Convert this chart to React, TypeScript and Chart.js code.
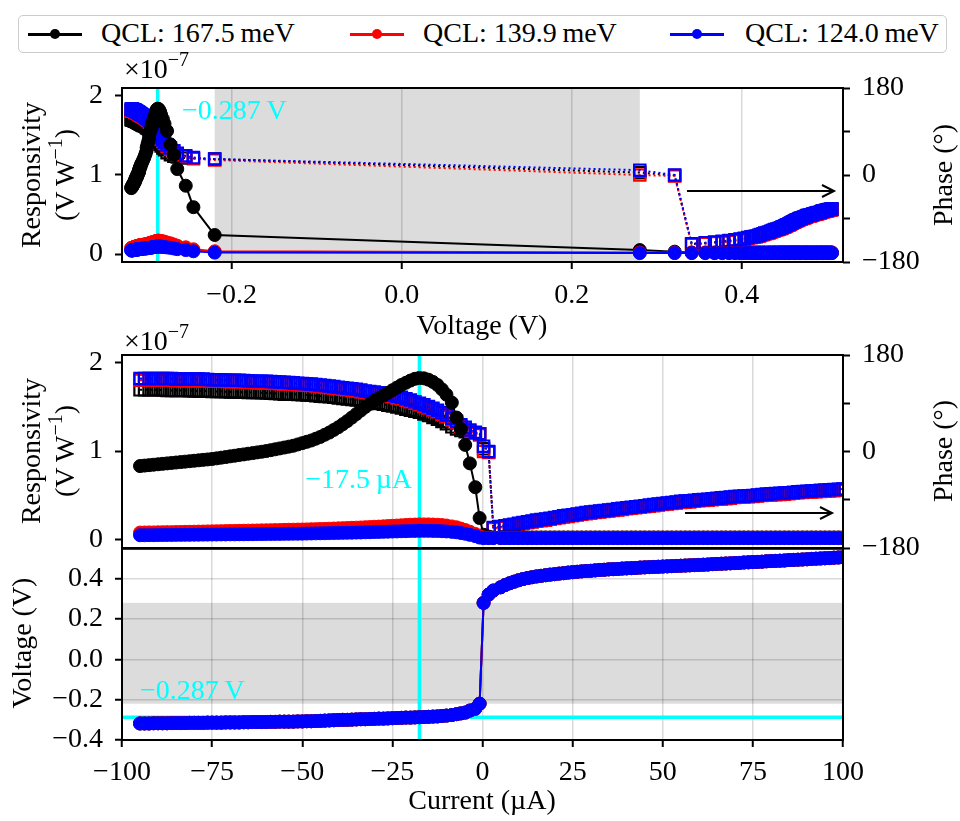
import { useEffect, useRef } from 'react';
import { Chart, registerables } from 'chart.js';

Chart.register(...registerables);

const FONT_FAMILY = "'Liberation Serif', 'Times New Roman', serif";
const FONT_SIZE = 28;
const MINUS = '\u2212';
const THIN = '\u2009';

// ---------------- data ----------------
const qclLabels = ['QCL: 167.5' + THIN + 'meV', 'QCL: 139.9' + THIN + 'meV', 'QCL: 124.0' + THIN + 'meV'];
const qclColors = ['#000000', '#ff0000', '#0000ff'];

// bias current (µA)
const current = [
  -95, -93.75, -92.5, -91.25, -90, -88.75, -87.5, -86.25, -85, -83.75,
  -82.5, -81.25, -80, -78.75, -77.5, -76.25, -75, -73.75, -72.5, -71.25,
  -70, -68.75, -67.5, -66.25, -65, -63.75, -62.5, -61.25, -60, -58.75,
  -57.5, -56.25, -55, -53.75, -52.5, -51.25, -50, -48.75, -47.5, -46.25,
  -45, -43.75, -42.5, -41.25, -40, -38.75, -37.5, -36.25, -35, -33.75,
  -32.5, -31.25, -30, -28.75, -27.5, -26.25, -25, -23.75, -22.5, -21.25,
  -20, -18.75, -17.5, -16.25, -15, -13.75, -12.5, -11.25, -10, -8.5,
  -7.2, -6, -4.8, -3.5, -2, -0.8, 0.3, 1.7, 3, 5,
  6.25, 7.5, 8.75, 10, 11.25, 12.5, 13.75, 15, 16.25, 17.5,
  18.75, 20, 21.25, 22.5, 23.75, 25, 26.25, 27.5, 28.75, 30,
  31.25, 32.5, 33.75, 35, 36.25, 37.5, 38.75, 40, 41.25, 42.5,
  43.75, 45, 46.25, 47.5, 48.75, 50, 51.25, 52.5, 53.75, 55,
  56.25, 57.5, 58.75, 60, 61.25, 62.5, 63.75, 65, 66.25, 67.5,
  68.75, 70, 71.25, 72.5, 73.75, 75, 76.25, 77.5, 78.75, 80,
  81.25, 82.5, 83.75, 85, 86.25, 87.5, 88.75, 90, 91.25, 92.5,
  93.75, 95, 96.25, 97.5, 98.75, 100,
];

// measured voltage (V)
const voltage = [
  -0.318, -0.318, -0.318, -0.317, -0.317, -0.317, -0.317, -0.316, -0.316, -0.316,
  -0.316, -0.315, -0.315, -0.315, -0.315, -0.314, -0.314, -0.314, -0.314, -0.313,
  -0.313, -0.313, -0.313, -0.312, -0.312, -0.311, -0.311, -0.311, -0.311, -0.310,
  -0.310, -0.309, -0.309, -0.309, -0.309, -0.308, -0.308, -0.307, -0.307, -0.306,
  -0.305, -0.304, -0.303, -0.302, -0.301, -0.300, -0.300, -0.299, -0.298, -0.297,
  -0.297, -0.296, -0.295, -0.294, -0.294, -0.293, -0.292, -0.291, -0.290, -0.289,
  -0.289, -0.288, -0.287, -0.286, -0.285, -0.284, -0.283, -0.281, -0.279, -0.276,
  -0.272, -0.268, -0.264, -0.254, -0.245, -0.220, 0.280, 0.321, 0.341, 0.357,
  0.368, 0.377, 0.385, 0.392, 0.398, 0.403, 0.407, 0.411, 0.414, 0.417,
  0.420, 0.422, 0.425, 0.427, 0.430, 0.432, 0.434, 0.436, 0.438, 0.439,
  0.441, 0.443, 0.444, 0.446, 0.447, 0.448, 0.450, 0.451, 0.452, 0.453,
  0.455, 0.456, 0.457, 0.458, 0.459, 0.460, 0.461, 0.462, 0.463, 0.464,
  0.465, 0.466, 0.467, 0.468, 0.469, 0.470, 0.472, 0.473, 0.474, 0.475,
  0.476, 0.477, 0.478, 0.480, 0.481, 0.482, 0.483, 0.484, 0.486, 0.487,
  0.488, 0.489, 0.490, 0.492, 0.493, 0.494, 0.495, 0.496, 0.498, 0.499,
  0.500, 0.501, 0.502, 0.504, 0.505, 0.506,
];

// responsivity (x 1e-7 V/W)
const resp167 = [
  0.830, 0.835, 0.840, 0.845, 0.850, 0.855, 0.860, 0.865, 0.870, 0.875,
  0.880, 0.885, 0.890, 0.895, 0.900, 0.905, 0.910, 0.917, 0.925, 0.932,
  0.940, 0.947, 0.955, 0.962, 0.970, 0.977, 0.985, 0.992, 1.000, 1.010,
  1.020, 1.030, 1.040, 1.050, 1.060, 1.075, 1.090, 1.105, 1.120, 1.140,
  1.160, 1.185, 1.210, 1.240, 1.270, 1.305, 1.340, 1.380, 1.420, 1.460,
  1.500, 1.535, 1.570, 1.600, 1.630, 1.660, 1.690, 1.720, 1.750, 1.775,
  1.800, 1.820, 1.830, 1.825, 1.810, 1.785, 1.750, 1.700, 1.640, 1.550,
  1.380, 1.250, 1.070, 0.860, 0.590, 0.240, 0.050, 0.030, 0.020, 0.020,
  0.020, 0.020, 0.020, 0.020, 0.020, 0.020, 0.020, 0.020, 0.020, 0.020,
  0.020, 0.020, 0.020, 0.020, 0.020, 0.020, 0.020, 0.020, 0.020, 0.020,
  0.020, 0.020, 0.020, 0.020, 0.020, 0.020, 0.020, 0.020, 0.020, 0.020,
  0.020, 0.020, 0.020, 0.020, 0.020, 0.020, 0.020, 0.020, 0.020, 0.020,
  0.020, 0.020, 0.020, 0.020, 0.020, 0.020, 0.020, 0.020, 0.020, 0.020,
  0.020, 0.020, 0.020, 0.020, 0.020, 0.020, 0.020, 0.020, 0.020, 0.020,
  0.020, 0.020, 0.020, 0.020, 0.020, 0.020, 0.020, 0.020, 0.020, 0.020,
  0.020, 0.020, 0.020, 0.020, 0.020, 0.020,
];
const resp139 = [
  0.075, 0.076, 0.077, 0.077, 0.078, 0.079, 0.080, 0.080, 0.081, 0.082,
  0.083, 0.084, 0.085, 0.086, 0.087, 0.088, 0.089, 0.090, 0.091, 0.092,
  0.093, 0.094, 0.095, 0.096, 0.097, 0.098, 0.099, 0.100, 0.101, 0.102,
  0.103, 0.104, 0.106, 0.107, 0.108, 0.109, 0.110, 0.111, 0.113, 0.114,
  0.116, 0.117, 0.119, 0.121, 0.123, 0.125, 0.127, 0.129, 0.131, 0.133,
  0.136, 0.138, 0.141, 0.143, 0.146, 0.149, 0.152, 0.155, 0.158, 0.161,
  0.164, 0.166, 0.168, 0.168, 0.168, 0.166, 0.164, 0.160, 0.155, 0.145,
  0.135, 0.120, 0.105, 0.085, 0.060, 0.035, 0.020, 0.018, 0.017, 0.017,
  0.017, 0.017, 0.017, 0.017, 0.017, 0.017, 0.017, 0.017, 0.017, 0.017,
  0.017, 0.017, 0.017, 0.017, 0.017, 0.017, 0.017, 0.017, 0.017, 0.017,
  0.017, 0.017, 0.017, 0.017, 0.017, 0.017, 0.017, 0.017, 0.017, 0.017,
  0.017, 0.017, 0.017, 0.017, 0.017, 0.017, 0.017, 0.017, 0.017, 0.017,
  0.017, 0.017, 0.017, 0.017, 0.017, 0.017, 0.017, 0.017, 0.017, 0.017,
  0.017, 0.017, 0.017, 0.017, 0.017, 0.017, 0.017, 0.017, 0.017, 0.017,
  0.017, 0.017, 0.017, 0.017, 0.017, 0.017, 0.017, 0.017, 0.017, 0.017,
  0.017, 0.017, 0.017, 0.017, 0.017, 0.017,
];
const resp124 = [
  0.045, 0.045, 0.046, 0.046, 0.047, 0.047, 0.048, 0.048, 0.049, 0.049,
  0.050, 0.050, 0.051, 0.051, 0.052, 0.052, 0.053, 0.053, 0.054, 0.054,
  0.055, 0.055, 0.056, 0.056, 0.057, 0.057, 0.058, 0.058, 0.059, 0.059,
  0.060, 0.060, 0.061, 0.061, 0.062, 0.062, 0.063, 0.064, 0.065, 0.066,
  0.067, 0.068, 0.069, 0.070, 0.071, 0.072, 0.073, 0.074, 0.075, 0.076,
  0.078, 0.079, 0.081, 0.082, 0.084, 0.085, 0.087, 0.088, 0.090, 0.091,
  0.093, 0.094, 0.095, 0.095, 0.095, 0.094, 0.093, 0.091, 0.088, 0.083,
  0.078, 0.070, 0.062, 0.050, 0.035, 0.018, 0.012, 0.012, 0.012, 0.012,
  0.012, 0.012, 0.012, 0.012, 0.012, 0.012, 0.012, 0.012, 0.012, 0.012,
  0.012, 0.012, 0.012, 0.012, 0.012, 0.012, 0.012, 0.012, 0.012, 0.012,
  0.012, 0.012, 0.012, 0.012, 0.012, 0.012, 0.012, 0.012, 0.012, 0.012,
  0.012, 0.012, 0.012, 0.012, 0.012, 0.012, 0.012, 0.012, 0.012, 0.012,
  0.012, 0.012, 0.012, 0.012, 0.012, 0.012, 0.012, 0.012, 0.012, 0.012,
  0.012, 0.012, 0.012, 0.012, 0.012, 0.012, 0.012, 0.012, 0.012, 0.012,
  0.012, 0.012, 0.012, 0.012, 0.012, 0.012, 0.012, 0.012, 0.012, 0.012,
  0.012, 0.012, 0.012, 0.012, 0.012, 0.012,
];

// phase (degrees)
const phase167 = [
  115, 115, 115, 115, 115, 114.5, 114, 114, 114, 114,
  114, 113.5, 113, 113, 113, 112.5, 112, 112, 112, 111.5,
  111, 111, 111, 110.5, 110, 110, 110, 109.5, 109, 108.5,
  108, 107.5, 107, 107, 107, 106.5, 106, 105.5, 105, 104,
  103, 102.5, 102, 101, 100, 99, 98, 97, 96, 95,
  94, 92.5, 91, 89.5, 88, 86.5, 85, 83, 81, 79,
  77, 75, 73, 70, 67, 63.5, 60, 56, 52, 46,
  42, 39, 37, 35, 34, 33, 5, -1, -143, -141,
  -139.5, -138, -136.5, -135, -133.5, -132, -130.5, -129, -128, -127,
  -125.5, -124, -122.5, -121, -120, -119, -117.5, -116, -115, -114,
  -113, -112, -111, -110, -109, -108, -107, -106, -105, -104,
  -103, -102, -101, -100, -99, -98, -97, -96, -95, -94,
  -93.5, -93, -92, -91, -90.5, -90, -89, -88, -87.5, -87,
  -86, -85, -84.5, -84, -83.5, -83, -82, -81, -80.5, -80,
  -79.5, -79, -78.5, -78, -77, -76, -75.5, -75, -74.5, -74,
  -73.5, -73, -72.5, -72, -71.5, -71,
];
const phase139 = [
  133, 133, 133, 133, 133, 133, 133, 133, 132, 132,
  132, 132, 132, 132, 132, 131.5, 131, 131, 131, 130.5,
  130, 130, 130, 129.5, 129, 128.5, 128, 128, 128, 127.5,
  127, 126.5, 126, 125.5, 125, 124.5, 124, 123.5, 123, 122,
  121, 120, 119, 118, 117, 116, 115, 114, 113, 111.5,
  110, 109, 108, 106.5, 105, 103.5, 102, 100, 98, 95.5,
  93, 90, 87, 84, 81, 77.5, 74, 69.5, 65, 59,
  53, 47, 42, 38, 34, 31, 0, -2, -144, -142,
  -140.5, -139, -137.5, -136, -134.5, -133, -131.5, -130, -129, -128,
  -126.5, -125, -123.5, -122, -121, -120, -118.5, -117, -116, -115,
  -114, -113, -112, -111, -110, -109, -108, -107, -106, -105,
  -104, -103, -102, -101, -100, -99, -98, -97, -96, -95,
  -94.5, -94, -93, -92, -91.5, -91, -90, -89, -88.5, -88,
  -87, -86, -85.5, -85, -84.5, -84, -83, -82, -81.5, -81,
  -80.5, -80, -79.5, -79, -78, -77, -76.5, -76, -75.5, -75,
  -74.5, -74, -73.5, -73, -72.5, -72,
];
const phase124 = [
  136, 136, 136, 136, 136, 136, 136, 136, 135, 135,
  135, 135, 135, 135, 135, 134.5, 134, 134, 134, 133.5,
  133, 133, 133, 132.5, 132, 131.5, 131, 131, 131, 130.5,
  130, 129.5, 129, 128.5, 128, 127.5, 127, 126.5, 126, 125,
  124, 123, 122, 121, 120, 119, 118, 117, 116, 114.5,
  113, 112, 111, 109.5, 108, 106.5, 105, 103, 101, 98.5,
  96, 93, 90, 87, 84, 80.5, 77, 72.5, 68, 62,
  56, 50, 45, 40, 36, 33, 10, 0, -142, -140,
  -138.5, -137, -135.5, -134, -132.5, -131, -129.5, -128, -127, -126,
  -124.5, -123, -121.5, -120, -119, -118, -116.5, -115, -114, -113,
  -112, -111, -110, -109, -108, -107, -106, -105, -104, -103,
  -102, -101, -100, -99, -98, -97, -96, -95, -94, -93,
  -92.5, -92, -91, -90, -89.5, -89, -88, -87, -86.5, -86,
  -85, -84, -83.5, -83, -82.5, -82, -81, -80, -79.5, -79,
  -78.5, -78, -77.5, -77, -76, -75, -74.5, -74, -73.5, -73,
  -72.5, -72, -71.5, -71, -70.5, -70,
];

// ticks
const voltageAxisTicks = [-0.2, 0, 0.2, 0.4];
const currentTicks = [-100, -75, -50, -25, 0, 25, 50, 75, 100];
const respTicks = [0, 1, 2];
const phaseTicks = [-180, -90, 0, 90, 180];
const phaseLabelled = [-180, 0, 180];
const voltageTicks = [-0.4, -0.2, 0, 0.2, 0.4];

// annotations
const shadeVoltage = [-0.22, 0.28];
const markerVoltage = -0.287;
const markerCurrent = -17.5;

// ---------------- styling helpers ----------------
const GRID_COLOR = 'rgba(0,0,0,0.15)';
const SHADE_COLOR = '#dcdcdc';
const CYAN = '#00ffff';
const tickFont = { family: FONT_FAMILY, size: FONT_SIZE };

type Seg = { t: string; sup?: boolean };
type TextItem = { segs: Seg[]; x: number; y: number; align: 'left' | 'center' | 'right'; rotate?: boolean; color?: string };

function fmt(v: number, d: number) {
  const r = Math.abs(v) < 1e-9 ? 0 : v;
  return (r < 0 ? MINUS : '') + Math.abs(r).toFixed(d);
}

function drawRich(ctx: CanvasRenderingContext2D, item: TextItem, offsetTop: number) {
  const size = FONT_SIZE;
  const sup = Math.round(size * 0.7);
  ctx.save();
  ctx.translate(item.x, item.y - offsetTop);
  if (item.rotate) ctx.rotate(-Math.PI / 2);
  ctx.fillStyle = item.color || '#000';
  ctx.textBaseline = 'middle';
  ctx.textAlign = 'left';
  const widths = item.segs.map((s) => {
    ctx.font = `${s.sup ? sup : size}px ${FONT_FAMILY}`;
    return ctx.measureText(s.t).width;
  });
  const total = widths.reduce((a, b) => a + b, 0);
  let x = item.align === 'center' ? -total / 2 : item.align === 'right' ? -total : 0;
  item.segs.forEach((s, i) => {
    ctx.font = `${s.sup ? sup : size}px ${FONT_FAMILY}`;
    ctx.fillText(s.t, x, s.sup ? -size * 0.36 : 0);
    x += widths[i];
  });
  ctx.restore();
}

interface DecorSpec {
  top: number;
  shadeX?: number[];
  shadeY?: number[];
  cyanX?: number[];
  cyanY?: number[];
  arrow?: { x0: number; x1: number; y: number };
  texts: TextItem[];
}

function decorPlugin(spec: DecorSpec) {
  return {
    id: 'decor',
    beforeDraw(chart: any) {
      const { ctx, chartArea: a, scales } = chart;
      ctx.save();
      ctx.fillStyle = SHADE_COLOR;
      if (spec.shadeX) {
        const x0 = scales.x.getPixelForValue(spec.shadeX[0]);
        const x1 = scales.x.getPixelForValue(spec.shadeX[1]);
        ctx.fillRect(x0, a.top, x1 - x0, a.bottom - a.top);
      }
      if (spec.shadeY) {
        const y0 = scales.yL.getPixelForValue(spec.shadeY[1]);
        const y1 = scales.yL.getPixelForValue(spec.shadeY[0]);
        ctx.fillRect(a.left, y0, a.right - a.left, y1 - y0);
      }
      ctx.restore();
    },
    beforeDatasetsDraw(chart: any) {
      const { ctx, chartArea: a, scales } = chart;
      ctx.save();
      ctx.strokeStyle = CYAN;
      ctx.lineWidth = 3.5;
      (spec.cyanX || []).forEach((v) => {
        const x = scales.x.getPixelForValue(v);
        ctx.beginPath();
        ctx.moveTo(x, a.top);
        ctx.lineTo(x, a.bottom);
        ctx.stroke();
      });
      (spec.cyanY || []).forEach((v) => {
        const y = scales.yL.getPixelForValue(v);
        ctx.beginPath();
        ctx.moveTo(a.left, y);
        ctx.lineTo(a.right, y);
        ctx.stroke();
      });
      ctx.restore();
    },
    afterDatasetsDraw(chart: any) {
      const { ctx, chartArea: a } = chart;
      ctx.save();
      ctx.strokeStyle = '#000';
      ctx.lineWidth = 2;
      ctx.strokeRect(a.left, a.top, a.right - a.left, a.bottom - a.top);
      if (spec.arrow) {
        const { x0, x1 } = spec.arrow;
        const y = spec.arrow.y - spec.top;
        ctx.beginPath();
        ctx.moveTo(x0, y);
        ctx.lineTo(x1, y);
        ctx.moveTo(x1 - 12, y - 6);
        ctx.lineTo(x1, y);
        ctx.lineTo(x1 - 12, y + 6);
        ctx.stroke();
      }
      ctx.restore();
    },
    afterDraw(chart: any) {
      spec.texts.forEach((t) => drawRich(chart.ctx, t, spec.top));
    },
  };
}

function fixedTicks(vals: number[]) {
  return (scale: any) => {
    scale.ticks = vals.map((v) => ({ value: v }));
  };
}

function circleSet(xs: number[], ys: number[], color: string, order: number, axis: string) {
  return {
    data: xs.map((x, i) => ({ x, y: ys[i] })),
    showLine: true,
    borderColor: color,
    borderWidth: 2,
    pointStyle: 'circle',
    pointRadius: 6.5,
    pointBackgroundColor: color,
    pointBorderColor: color,
    pointBorderWidth: 1,
    yAxisID: axis,
    order,
  };
}

function squareSet(xs: number[], ys: number[], color: string, order: number) {
  return {
    data: xs.map((x, i) => ({ x, y: ys[i] })),
    showLine: true,
    borderColor: color,
    borderWidth: 2,
    borderDash: [2, 3],
    pointStyle: 'rect',
    pointRadius: 8,
    pointBackgroundColor: 'rgba(0,0,0,0)',
    pointBorderColor: color,
    pointBorderWidth: 2.2,
    yAxisID: 'yR',
    order,
  };
}

const respSeries = [resp167, resp139, resp124];
const phaseSeries = [phase167, phase139, phase124];

function respPhaseDatasets(xs: number[]) {
  const sets: any[] = [];
  for (let i = 0; i < 3; i++) {
    sets.push(circleSet(xs, respSeries[i], qclColors[i], 2 - i, 'yL'));
    sets.push(squareSet(xs, phaseSeries[i], qclColors[i], 5 - i));
  }
  return sets;
}

function respAxis() {
  return {
    type: 'linear',
    position: 'left',
    min: -0.1,
    max: 2.09,
    afterBuildTicks: fixedTicks(respTicks),
    afterFit: (s: any) => { s.width = 122; },
    ticks: { callback: (v: any) => fmt(Number(v), 0), font: tickFont, color: '#000', padding: 12, autoSkip: false },
    grid: { drawOnChartArea: false, drawTicks: true, tickLength: 7, tickWidth: 2, tickColor: '#000' },
    border: { display: false },
  };
}

function phaseAxis() {
  return {
    type: 'linear',
    position: 'right',
    min: -180,
    max: 180,
    afterBuildTicks: fixedTicks(phaseTicks),
    afterFit: (s: any) => { s.width = 117; },
    ticks: {
      callback: (v: any) => (phaseLabelled.includes(Number(v)) ? fmt(Number(v), 0) : ''),
      font: tickFont, color: '#000', padding: 12, autoSkip: false,
    },
    grid: { drawOnChartArea: false, drawTicks: true, tickLength: 7, tickWidth: 2, tickColor: '#000' },
    border: { display: false },
  };
}

const baseOptions = {
  responsive: false,
  animation: false,
  devicePixelRatio: 1,
  events: [],
  plugins: { legend: { display: false }, tooltip: { enabled: false } },
};

const respTitle: Seg[] = [{ t: 'Responsivity' }];
const unitTitle: Seg[] = [{ t: '(V' + THIN + 'W' }, { t: MINUS + '1', sup: true }, { t: ')' }];
const expTitle: Seg[] = [{ t: '\u00d710' }, { t: MINUS + '7', sup: true }];

export default function App() {
  const refA = useRef<HTMLCanvasElement>(null);
  const refB = useRef<HTMLCanvasElement>(null);
  const refC = useRef<HTMLCanvasElement>(null);

  useEffect(() => {
    Chart.defaults.font.family = FONT_FAMILY;

    const chartA = new Chart(refA.current as HTMLCanvasElement, {
      type: 'scatter',
      data: { datasets: respPhaseDatasets(voltage) },
      options: {
        ...baseOptions,
        layout: { padding: { top: 38, left: 0, right: 0, bottom: 0 } },
        scales: {
          x: {
            type: 'linear',
            min: -0.329,
            max: 0.519,
            afterBuildTicks: fixedTicks(voltageAxisTicks),
            afterFit: (s: any) => { s.height = 88; },
            ticks: { callback: (v: any) => fmt(Number(v), 1), font: tickFont, color: '#000', padding: 10, autoSkip: false, maxRotation: 0 },
            grid: { color: GRID_COLOR, lineWidth: 1.5, drawTicks: true, tickLength: 7, tickWidth: 2, tickColor: '#000' },
            border: { display: false },
          },
          yL: respAxis(),
          yR: phaseAxis(),
        },
      } as any,
      plugins: [
        decorPlugin({
          top: 50,
          shadeX: shadeVoltage,
          cyanX: [markerVoltage],
          arrow: { x0: 687, x1: 834, y: 191 },
          texts: [
            { segs: expTitle, x: 124, y: 71, align: 'left' },
            { segs: respTitle, x: 33, y: 175, align: 'center', rotate: true },
            { segs: unitTitle, x: 67, y: 175, align: 'center', rotate: true },
            { segs: [{ t: 'Phase (\u00b0)' }], x: 945, y: 175, align: 'center', rotate: true },
            { segs: [{ t: 'Voltage (V)' }], x: 482, y: 327, align: 'center' },
            { segs: [{ t: fmt(markerVoltage, 3) + THIN + 'V' }], x: 182, y: 112, align: 'left', color: CYAN },
          ],
        }),
      ] as any,
    });

    const chartB = new Chart(refB.current as HTMLCanvasElement, {
      type: 'scatter',
      data: { datasets: respPhaseDatasets(current) },
      options: {
        ...baseOptions,
        layout: { padding: { top: 35, left: 0, right: 0, bottom: 0 } },
        scales: {
          x: {
            type: 'linear',
            min: -100,
            max: 100,
            afterBuildTicks: fixedTicks(currentTicks),
            afterFit: (s: any) => { s.height = 32; },
            ticks: { display: false },
            grid: { color: GRID_COLOR, lineWidth: 1.5, drawTicks: false },
            border: { display: false },
          },
          yL: respAxis(),
          yR: phaseAxis(),
        },
      } as any,
      plugins: [
        decorPlugin({
          top: 320,
          cyanX: [markerCurrent],
          arrow: { x0: 685, x1: 832, y: 513 },
          texts: [
            { segs: expTitle, x: 124, y: 343, align: 'left' },
            { segs: respTitle, x: 33, y: 451, align: 'center', rotate: true },
            { segs: unitTitle, x: 67, y: 451, align: 'center', rotate: true },
            { segs: [{ t: 'Phase (\u00b0)' }], x: 945, y: 451, align: 'center', rotate: true },
            { segs: [{ t: fmt(markerCurrent, 1) + THIN + '\u00b5A' }], x: 412, y: 481, align: 'right', color: CYAN },
          ],
        }),
      ] as any,
    });

    const ivSets = [0, 1, 2].map((i) => circleSet(current, voltage, qclColors[i], 2 - i, 'yL'));
    const chartC = new Chart(refC.current as HTMLCanvasElement, {
      type: 'scatter',
      data: { datasets: ivSets },
      options: {
        ...baseOptions,
        layout: { padding: { top: 28, left: 0, right: 117, bottom: 0 } },
        scales: {
          x: {
            type: 'linear',
            min: -100,
            max: 100,
            afterBuildTicks: fixedTicks(currentTicks),
            afterFit: (s: any) => { s.height = 81; },
            ticks: { callback: (v: any) => fmt(Number(v), 0), font: tickFont, color: '#000', padding: 9, autoSkip: false, maxRotation: 0 },
            grid: { color: GRID_COLOR, lineWidth: 1.5, drawTicks: true, tickLength: 7, tickWidth: 2, tickColor: '#000' },
            border: { display: false },
          },
          yL: {
            type: 'linear',
            position: 'left',
            min: -0.4,
            max: 0.548,
            afterBuildTicks: fixedTicks(voltageTicks),
            afterFit: (s: any) => { s.width = 122; },
            ticks: { callback: (v: any) => fmt(Number(v), 1), font: tickFont, color: '#000', padding: 12, autoSkip: false },
            grid: { color: GRID_COLOR, lineWidth: 1.5, drawTicks: true, tickLength: 7, tickWidth: 2, tickColor: '#000' },
            border: { display: false },
          },
        },
      } as any,
      plugins: [
        decorPlugin({
          top: 520,
          shadeY: shadeVoltage,
          cyanX: [markerCurrent],
          cyanY: [markerVoltage],
          texts: [
            { segs: [{ t: 'Voltage (V)' }], x: 24, y: 643, align: 'center', rotate: true },
            { segs: [{ t: 'Current (\u00b5A)' }], x: 482, y: 802, align: 'center' },
            { segs: [{ t: fmt(markerVoltage, 3) + THIN + 'V' }], x: 140, y: 692, align: 'left', color: CYAN },
          ],
        }),
      ] as any,
    });

    return () => {
      chartA.destroy();
      chartB.destroy();
      chartC.destroy();
    };
  }, []);

  const legendSymX = [28, 350, 670];
  const legendTextX = [101, 423, 745];

  return (
    <div style={{ position: 'fixed', left: 0, top: 0, width: 960, height: 821, background: '#fff', overflow: 'hidden' }}>
      <div
        style={{
          position: 'absolute', left: 18, top: 15, width: 929, height: 38,
          border: '1.5px solid #cccccc', borderRadius: 5, boxSizing: 'border-box',
        }}
      />
      {qclLabels.map((label, i) => (
        <div key={label}>
          <div style={{ position: 'absolute', left: legendSymX[i], top: 33, width: 54, height: 2.5, background: qclColors[i] }} />
          <div
            style={{
              position: 'absolute', left: legendSymX[i] + 22, top: 29, width: 10, height: 10,
              borderRadius: '50%', background: qclColors[i],
            }}
          />
          <span
            style={{
              position: 'absolute', left: legendTextX[i], top: 17, fontFamily: FONT_FAMILY,
              fontSize: FONT_SIZE, lineHeight: '32px', whiteSpace: 'nowrap', color: '#000',
            }}
          >
            {label}
          </span>
        </div>
      ))}
      <canvas ref={refA} width={960} height={300} style={{ position: 'absolute', left: 0, top: 50 }} />
      <canvas ref={refB} width={960} height={260} style={{ position: 'absolute', left: 0, top: 320 }} />
      <canvas ref={refC} width={960} height={301} style={{ position: 'absolute', left: 0, top: 520 }} />
    </div>
  );
}
